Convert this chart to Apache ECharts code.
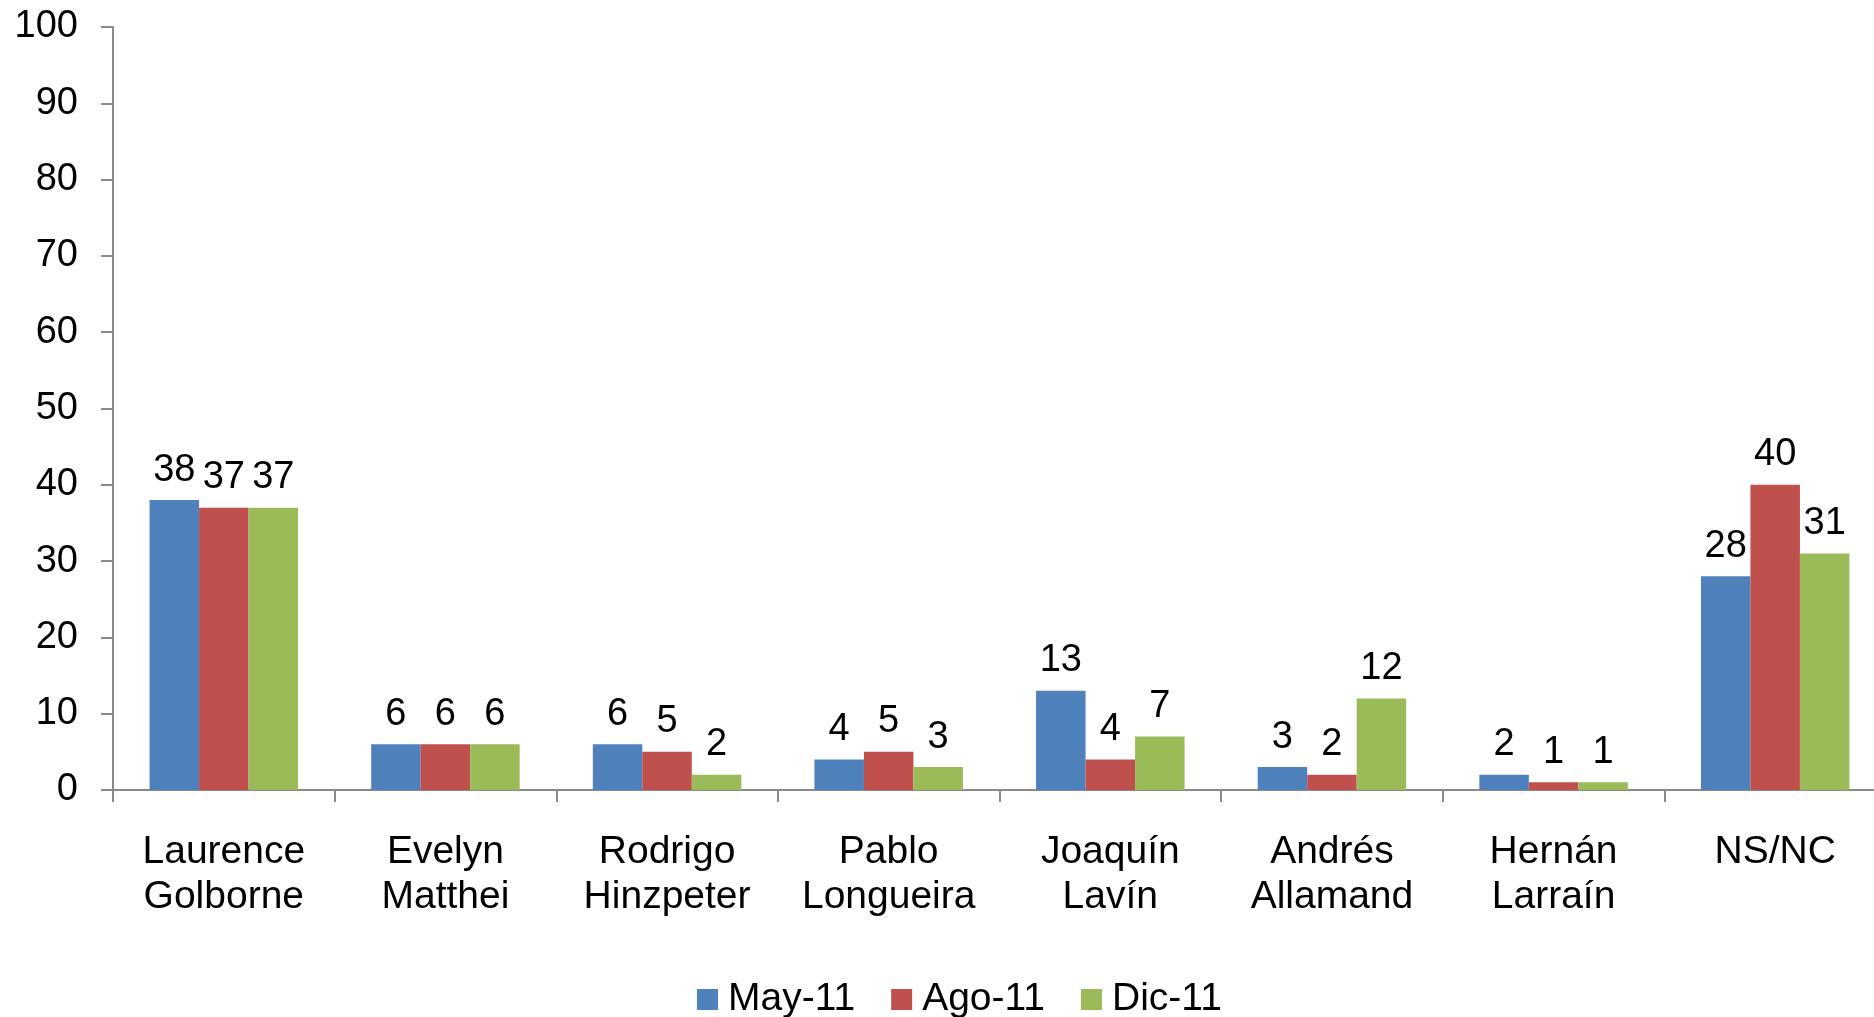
<!DOCTYPE html>
<html>
<head>
<meta charset="utf-8">
<title>Encuesta</title>
<script src="https://cdn.jsdelivr.net/npm/echarts@6/dist/echarts.min.js"></script>
<style>
  html, body { margin: 0; padding: 0; background: #ffffff; overflow: hidden; }
  /* the plot runs slightly past the right edge of the window */
  #chart { width: 1886px; height: 1017px; }
</style>
</head>
<body>
<div id="chart"></div>
<script>
// Candidates along the category axis
const categories = [
  'Laurence\nGolborne',
  'Evelyn\nMatthei',
  'Rodrigo\nHinzpeter',
  'Pablo\nLongueira',
  'Joaquín\nLavín',
  'Andrés\nAllamand',
  'Hernán\nLarraín',
  'NS/NC'
];

// Survey waves
const seriesNames = ['May-11', 'Ago-11', 'Dic-11'];
const may11 = [38, 6, 6, 4, 13, 3, 2, 28];
const ago11 = [37, 6, 5, 5, 4, 2, 1, 40];
const dic11 = [37, 6, 2, 3, 7, 12, 1, 31];

// Value axis ticks
const yMin = 0;
const yMax = 100;
const yStep = 10;

const colors = ['#4F81BD', '#C0504D', '#9BBB59'];
const FONT = '"Liberation Sans", Arial, Helvetica, sans-serif';
const axisGray = '#898989';

const chart = echarts.init(document.getElementById('chart'), null, { renderer: 'canvas' });

function makeSeries(name, data, color) {
  return {
    name: name,
    type: 'bar',
    data: data,
    barGap: '0%',
    barCategoryGap: '33%',
    itemStyle: { color: color },
    label: {
      show: true,
      position: 'top',
      distance: 11,
      color: '#000000',
      fontFamily: FONT,
      fontSize: 38
    },
    emphasis: { disabled: true },
    animation: false
  };
}

chart.setOption({
  animation: false,
  color: colors,
  textStyle: { fontFamily: FONT },
  grid: {
    left: 113,
    top: 27,
    right: 0,
    bottom: 227,
    containLabel: false
  },
  legend: {
    data: seriesNames,
    left: 697,
    top: 980,
    padding: 0,
    icon: 'rect',
    itemWidth: 21,
    itemHeight: 21,
    itemGap: 36,
    textStyle: { fontFamily: FONT, fontSize: 39, color: '#000000', padding: [0, 0, 0, 5] },
    selectedMode: false
  },
  xAxis: {
    type: 'category',
    data: categories,
    boundaryGap: true,
    axisLine: { show: true, lineStyle: { color: axisGray, width: 2 } },
    axisTick: { show: true, inside: false, length: 12, alignWithLabel: false, lineStyle: { color: axisGray, width: 2 } },
    axisLabel: {
      interval: 0,
      margin: 40,
      color: '#000000',
      fontFamily: FONT,
      fontSize: 39,
      lineHeight: 45
    },
    splitLine: { show: false }
  },
  yAxis: {
    type: 'value',
    min: yMin,
    max: yMax,
    interval: yStep,
    axisLine: { show: true, lineStyle: { color: axisGray, width: 2 } },
    axisTick: { show: true, inside: false, length: 12, lineStyle: { color: axisGray, width: 2 } },
    axisLabel: {
      margin: 35,
      color: '#000000',
      fontFamily: FONT,
      fontSize: 38
    },
    splitLine: { show: false }
  },
  series: [
    makeSeries(seriesNames[0], may11, colors[0]),
    makeSeries(seriesNames[1], ago11, colors[1]),
    makeSeries(seriesNames[2], dic11, colors[2])
  ]
});
</script>
</body>
</html>
